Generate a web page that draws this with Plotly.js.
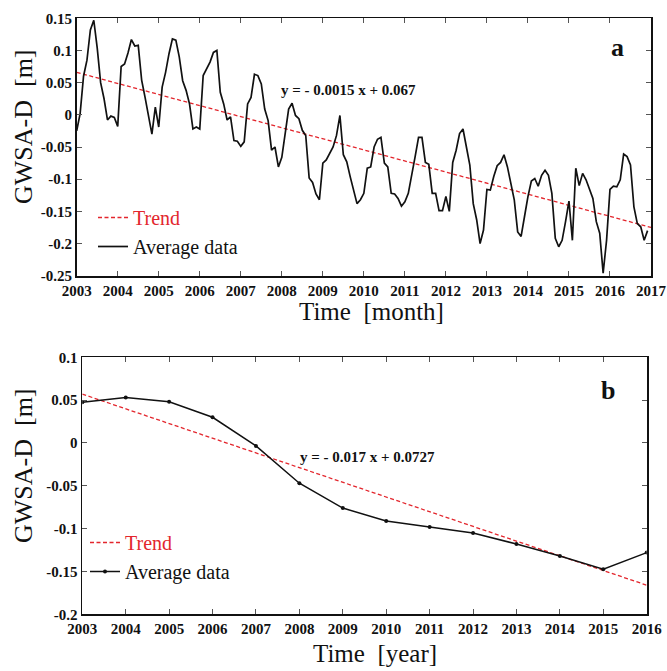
<!DOCTYPE html>
<html>
<head>
<meta charset="utf-8">
<script src="https://cdn.plot.ly/plotly-3.0.1.min.js"></script>
<style>
  html, body { margin: 0; padding: 0; background: #fff; }
  #chart { width: 667px; height: 671px; }
</style>
</head>
<body>
<div id="chart"></div>
<script>
// ---------- Data ----------
// (a) monthly average GWSA-D [m], Jan 2003 .. Dec 2016
const monthlyStartYear = 2003;
const monthlyGWSA = [
  // 2003
  -0.025, 0.002, 0.060, 0.085, 0.132, 0.147, 0.104, 0.050, 0.025, -0.008, -0.002, -0.004,
  // 2004
  -0.018, 0.075, 0.079, 0.096, 0.117, 0.107, 0.108, 0.054, 0.027, -0.005, -0.030, 0.012,
  // 2005
  -0.019, 0.043, 0.066, 0.095, 0.118, 0.116, 0.090, 0.053, 0.038, 0.017, -0.022, -0.019,
  // 2006
  -0.022, 0.061, 0.072, 0.082, 0.097, 0.100, 0.035, 0.017, -0.008, -0.003, -0.040, -0.041,
  // 2007
  -0.049, -0.042, 0.017, 0.027, 0.063, 0.061, 0.048, 0.009, -0.009, -0.055, -0.050, -0.081,
  // 2008
  -0.066, -0.030, 0.009, 0.018, -0.001, -0.006, -0.024, -0.032, -0.098, -0.105, -0.123, -0.132,
  // 2009
  -0.075, -0.070, -0.060, -0.050, -0.032, -0.001, -0.062, -0.073, -0.096, -0.117, -0.138, -0.132,
  // 2010
  -0.122, -0.083, -0.081, -0.050, -0.038, -0.035, -0.075, -0.081, -0.122, -0.123, -0.130, -0.142,
  // 2011
  -0.135, -0.122, -0.096, -0.065, -0.035, -0.035, -0.074, -0.077, -0.122, -0.122, -0.149, -0.149,
  // 2012
  -0.127, -0.150, -0.074, -0.055, -0.029, -0.022, -0.050, -0.078, -0.138, -0.163, -0.200, -0.179,
  // 2013
  -0.116, -0.117, -0.096, -0.079, -0.074, -0.062, -0.081, -0.106, -0.132, -0.182, -0.189, -0.158,
  // 2014
  -0.127, -0.103, -0.099, -0.111, -0.094, -0.086, -0.094, -0.122, -0.192, -0.205, -0.195, -0.166,
  // 2015
  -0.134, -0.195, -0.083, -0.110, -0.091, -0.101, -0.117, -0.130, -0.166, -0.184, -0.246, -0.195,
  // 2016
  -0.116, -0.111, -0.112, -0.101, -0.061, -0.065, -0.078, -0.143, -0.169, -0.174, -0.195, -0.180
];
// trend line (a): y = -0.0015 x + 0.067, end values
const trendAYears = [2003, 2017];
const trendAValues = [0.066, -0.175];

// (b) yearly average GWSA-D [m]
const annualYears = [2003, 2004, 2005, 2006, 2007, 2008, 2009, 2010, 2011, 2012, 2013, 2014, 2015, 2016];
const annualGWSA = [0.0475, 0.053, 0.048, 0.030, -0.0035, -0.047, -0.076, -0.091, -0.098, -0.105, -0.118, -0.132, -0.1475, -0.128];
// trend line (b): y = -0.017 x + 0.0727
const trendBYears = [2003, 2016];
const trendBValues = [0.057, -0.166];

// tick labels
const xTicksA = [2003, 2004, 2005, 2006, 2007, 2008, 2009, 2010, 2011, 2012, 2013, 2014, 2015, 2016, 2017];
const xTicksB = [2003, 2004, 2005, 2006, 2007, 2008, 2009, 2010, 2011, 2012, 2013, 2014, 2015, 2016];
const yTicksA = [0.15, 0.1, 0.05, 0, -0.05, -0.1, -0.15, -0.2, -0.25];
const yTickTextA = ['0.15', '0.1', '0.05', '0', '-0.05', '-0.1', '-0.15', '-0.2', '-0.25'];
const yTicksB = [0.1, 0.05, 0, -0.05, -0.1, -0.15, -0.2];
const yTickTextB = ['0.1', '0.05', '0', '-0.05', '-0.1', '-0.15', '-0.2'];

const equationA = 'y = - 0.0015 x + 0.067';
const equationB = 'y = - 0.017 x + 0.0727';

// ---------- Build ----------
const monthlyX = monthlyGWSA.map((_, i) => monthlyStartYear + i / 12);

const SERIF = 'Liberation Serif, Times New Roman, serif';
const RED = '#e3262d';
const INK = '#111111';

const traces = [
  {
    x: trendAYears, y: trendAValues, xaxis: 'x', yaxis: 'y',
    mode: 'lines', name: '<span style="color:' + RED + '">Trend</span>',
    line: { color: RED, width: 1.3, dash: '4px,2.5px' },
    legend: 'legend'
  },
  {
    x: monthlyX, y: monthlyGWSA, xaxis: 'x', yaxis: 'y',
    mode: 'lines', name: 'Average data',
    line: { color: INK, width: 1.7 },
    legend: 'legend'
  },
  {
    x: trendBYears, y: trendBValues, xaxis: 'x2', yaxis: 'y2',
    mode: 'lines', name: '<span style="color:' + RED + '">Trend</span>',
    line: { color: RED, width: 1.3, dash: '4px,2.5px' },
    legend: 'legend2'
  },
  {
    x: annualYears, y: annualGWSA, xaxis: 'x2', yaxis: 'y2',
    mode: 'lines+markers', name: 'Average data',
    line: { color: INK, width: 1.5 },
    marker: { color: INK, size: 4 },
    legend: 'legend2'
  }
];

const tickFont = { family: SERIF, size: 15, color: INK, weight: 'bold' };
const axisCommon = {
  showline: true, linecolor: INK, linewidth: 1.8, mirror: 'ticks',
  ticks: 'inside', ticklen: 5, tickwidth: 1, tickcolor: '#555',
  showgrid: false, zeroline: false, tickfont: tickFont, fixedrange: true
};

const legendCommon = {
  font: { family: SERIF, size: 20, color: INK },
  bgcolor: 'rgba(0,0,0,0)', borderwidth: 0,
  xanchor: 'left', yanchor: 'top', tracegroupgap: 0, itemwidth: 30
};

const W = 667, H = 671;
const px = v => v / W;
const py = v => 1 - v / H;

const layout = {
  width: W, height: H,
  margin: { l: 0, r: 0, t: 0, b: 0 },
  paper_bgcolor: '#fff', plot_bgcolor: '#fff',
  showlegend: true,
  font: { family: SERIF, color: INK },
  xaxis: Object.assign({}, axisCommon, {
    domain: [px(76.7), px(651)], anchor: 'y', range: [2003, 2017],
    tickmode: 'array', tickvals: xTicksA, ticktext: xTicksA.map(String)
  }),
  yaxis: Object.assign({}, axisCommon, {
    domain: [py(275.7), py(18.3)], anchor: 'x', range: [-0.25, 0.15],
    tickmode: 'array', tickvals: yTicksA, ticktext: yTickTextA
  }),
  xaxis2: Object.assign({}, axisCommon, {
    domain: [px(82.3), px(646.7)], anchor: 'y2', range: [2003, 2016],
    tickmode: 'array', tickvals: xTicksB, ticktext: xTicksB.map(String)
  }),
  yaxis2: Object.assign({}, axisCommon, {
    domain: [py(614.3), py(357.3)], anchor: 'x2', range: [-0.2, 0.1],
    tickmode: 'array', tickvals: yTicksB, ticktext: yTickTextB
  }),
  legend: Object.assign({}, legendCommon, { x: px(93), y: py(198) }),
  legend2: Object.assign({}, legendCommon, { x: px(85), y: py(523) }),
  annotations: [
    { text: 'GWSA-D\u00a0\u00a0[m]', xref: 'paper', yref: 'paper', x: px(23), y: py(127),
      textangle: -90, showarrow: false, xanchor: 'center', yanchor: 'middle',
      font: { family: SERIF, size: 26, color: INK } },
    { text: 'GWSA-D\u00a0\u00a0[m]', xref: 'paper', yref: 'paper', x: px(23), y: py(466),
      textangle: -90, showarrow: false, xanchor: 'center', yanchor: 'middle',
      font: { family: SERIF, size: 26, color: INK } },
    { text: 'Time\u00a0\u00a0[month]', xref: 'paper', yref: 'paper', x: px(371), y: py(312),
      showarrow: false, xanchor: 'center', yanchor: 'middle',
      font: { family: SERIF, size: 25, color: INK } },
    { text: 'Time\u00a0\u00a0[year]', xref: 'paper', yref: 'paper', x: px(375), y: py(653),
      showarrow: false, xanchor: 'center', yanchor: 'middle',
      font: { family: SERIF, size: 25, color: INK } },
    { text: equationA, xref: 'paper', yref: 'paper', x: px(348), y: py(90),
      showarrow: false, xanchor: 'center', yanchor: 'middle',
      font: { family: SERIF, size: 15, color: INK, weight: 'bold' } },
    { text: equationB, xref: 'paper', yref: 'paper', x: px(367), y: py(457),
      showarrow: false, xanchor: 'center', yanchor: 'middle',
      font: { family: SERIF, size: 15, color: INK, weight: 'bold' } },
    { text: 'a', xref: 'paper', yref: 'paper', x: px(617), y: py(48),
      showarrow: false, xanchor: 'center', yanchor: 'middle',
      font: { family: SERIF, size: 26, color: INK, weight: 'bold' } },
    { text: 'b', xref: 'paper', yref: 'paper', x: px(608), y: py(390),
      showarrow: false, xanchor: 'center', yanchor: 'middle',
      font: { family: SERIF, size: 26, color: INK, weight: 'bold' } }
  ]
};

Plotly.newPlot('chart', traces, layout, { staticPlot: true, displayModeBar: false });
</script>
</body>
</html>
